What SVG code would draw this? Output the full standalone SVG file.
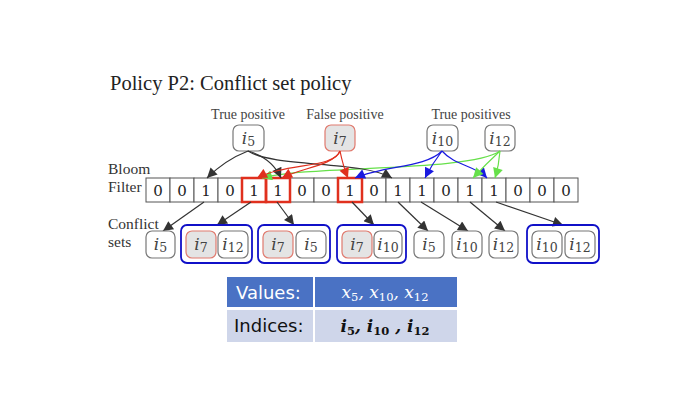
<svg xmlns="http://www.w3.org/2000/svg" width="695" height="407" viewBox="0 0 695 407">
<style>
.ser{font-family:"Liberation Serif","Times New Roman",serif;fill:#222}
.lbl{font-size:14px;fill:#444}
.side{font-size:15.5px;fill:#333}
.cell{fill:#fff;stroke:#555;stroke-width:1}
.dig{font-family:"DejaVu Serif",serif;font-size:15px;fill:#222;text-anchor:middle}
.red{fill:none;stroke:#e0301e;stroke-width:2.5}
.nd{fill:#fff;stroke:#777;stroke-width:1.2}
.fp{fill:#e4e4e4;stroke:#e07a6e;stroke-width:1.2}
.grp{fill:none;stroke:#1010c8;stroke-width:1.8}
.it{font-family:"DejaVu Serif",serif;font-size:17px;fill:#444;text-anchor:middle}
.it .i{font-style:italic}
.it .s{font-size:12.5px}
.e{fill:none;stroke-width:1.2}
.k{stroke:#333}
.r{stroke:#e0301e}
.b{stroke:#1a1ae0}
.g{stroke:#66e04a}
.hd{font-family:"DejaVu Sans","Liberation Sans",sans-serif;font-size:18px}
.mth{font-family:"DejaVu Serif",serif;font-style:italic;font-size:17px;text-anchor:middle}
.mth .s{font-style:normal;font-size:11.5px}
</style>
<defs>
<marker id="mk" viewBox="0 0 10 10" refX="10" refY="5" markerWidth="12" markerHeight="10" markerUnits="userSpaceOnUse" orient="auto"><path d="M0,0 L10,5 L0,10 z" fill="#333"/></marker>
<marker id="mr" viewBox="0 0 10 10" refX="10" refY="5" markerWidth="12" markerHeight="10" markerUnits="userSpaceOnUse" orient="auto"><path d="M0,0 L10,5 L0,10 z" fill="#e0301e"/></marker>
<marker id="mb" viewBox="0 0 10 10" refX="10" refY="5" markerWidth="12" markerHeight="10" markerUnits="userSpaceOnUse" orient="auto"><path d="M0,0 L10,5 L0,10 z" fill="#1a1ae0"/></marker>
<marker id="mg" viewBox="0 0 10 10" refX="10" refY="5" markerWidth="12" markerHeight="10" markerUnits="userSpaceOnUse" orient="auto"><path d="M0,0 L10,5 L0,10 z" fill="#66e04a"/></marker>
</defs>
<rect width="695" height="407" fill="#fff"/>
<text class="ser" x="110" y="90" font-size="20.5" fill="#111">Policy P2: Conflict set policy</text>
<text class="ser lbl" x="248" y="119" text-anchor="middle">True positive</text>
<text class="ser lbl" x="345" y="119" text-anchor="middle">False positive</text>
<text class="ser lbl" x="471" y="119" text-anchor="middle">True positives</text>
<text class="ser side" x="108" y="174">Bloom</text>
<text class="ser side" x="108" y="192">Filter</text>
<text class="ser side" x="108" y="229">Conflict</text>
<text class="ser side" x="108" y="247">sets</text>

<g id="bloom">
<rect class="cell" x="146" y="178" width="24" height="24"/><text class="dig" x="158" y="196">0</text>
<rect class="cell" x="170" y="178" width="24" height="24"/><text class="dig" x="182" y="196">0</text>
<rect class="cell" x="194" y="178" width="24" height="24"/><text class="dig" x="206" y="196">1</text>
<rect class="cell" x="218" y="178" width="24" height="24"/><text class="dig" x="230" y="196">0</text>
<rect class="cell" x="242" y="178" width="24" height="24"/><text class="dig" x="254" y="196">1</text>
<rect class="cell" x="266" y="178" width="24" height="24"/><text class="dig" x="278" y="196">1</text>
<rect class="cell" x="290" y="178" width="24" height="24"/><text class="dig" x="302" y="196">0</text>
<rect class="cell" x="314" y="178" width="24" height="24"/><text class="dig" x="326" y="196">0</text>
<rect class="cell" x="338" y="178" width="24" height="24"/><text class="dig" x="350" y="196">1</text>
<rect class="cell" x="362" y="178" width="24" height="24"/><text class="dig" x="374" y="196">0</text>
<rect class="cell" x="386" y="178" width="24" height="24"/><text class="dig" x="398" y="196">1</text>
<rect class="cell" x="410" y="178" width="24" height="24"/><text class="dig" x="422" y="196">1</text>
<rect class="cell" x="434" y="178" width="24" height="24"/><text class="dig" x="446" y="196">0</text>
<rect class="cell" x="458" y="178" width="24" height="24"/><text class="dig" x="470" y="196">1</text>
<rect class="cell" x="482" y="178" width="24" height="24"/><text class="dig" x="494" y="196">1</text>
<rect class="cell" x="506" y="178" width="24" height="24"/><text class="dig" x="518" y="196">0</text>
<rect class="cell" x="530" y="178" width="24" height="24"/><text class="dig" x="542" y="196">0</text>
<rect class="cell" x="554" y="178" width="24" height="24"/><text class="dig" x="566" y="196">0</text>
<rect class="red" x="242" y="178" width="24" height="24"/>
<rect class="red" x="266" y="178" width="24" height="24"/>
<rect class="red" x="338" y="178" width="24" height="24"/>
</g>

<g id="top-i5"><rect class="nd" x="233" y="125" width="31" height="26" rx="6"/><text class="it" x="248.5" y="144"><tspan class="i">i</tspan><tspan class="s" dy="2">5</tspan></text></g>
<g id="top-i7"><rect class="fp" x="325" y="125" width="30" height="26" rx="6"/><text class="it" x="340" y="144"><tspan class="i">i</tspan><tspan class="s" dy="2">7</tspan></text></g>
<g id="top-i10"><rect class="nd" x="427" y="125" width="31" height="26" rx="6"/><text class="it" x="442.5" y="144"><tspan class="i">i</tspan><tspan class="s" dy="2">10</tspan></text></g>
<g id="top-i12"><rect class="nd" x="485" y="125" width="30" height="26" rx="6"/><text class="it" x="500" y="144"><tspan class="i">i</tspan><tspan class="s" dy="2">12</tspan></text></g>

<g id="connectors">
<path class="e g" d="M500,151 C470,172 310,165 262,178" marker-end="url(#mg)"/>
<path class="e k" d="M248,151 Q225,160 207,178" marker-end="url(#mk)"/>
<path class="e k" d="M248,151 Q272,158 281,178" marker-end="url(#mk)"/>
<path class="e k" d="M248,151 C275,168 360,160 392,178" marker-end="url(#mk)"/>
<path class="e r" d="M340,151 C335,168 285,163 257,178" marker-end="url(#mr)"/>
<path class="e r" d="M340,151 C333,166 300,168 282,178" marker-end="url(#mr)"/>
<path class="e r" d="M340,151 Q343,166 348,178" marker-end="url(#mr)"/>
<path class="e b" d="M442,151 C425,168 385,165 355,178" marker-end="url(#mb)"/>
<path class="e b" d="M442,151 Q432,164 425,178" marker-end="url(#mb)"/>
<path class="e b" d="M442,151 C455,166 475,165 487,178" marker-end="url(#mb)"/>
<path class="e g" d="M500,151 Q486,164 473,178" marker-end="url(#mg)"/>
<path class="e g" d="M500,151 Q499,165 495,178" marker-end="url(#mg)"/>

<path class="e k" d="M204,202 L163,231" marker-end="url(#mk)"/>
<path class="e k" d="M251,202 L217,225" marker-end="url(#mk)"/>
<path class="e k" d="M277,202 L294,225" marker-end="url(#mk)"/>
<path class="e k" d="M352,202 L374,225" marker-end="url(#mk)"/>
<path class="e k" d="M398,202 L428,231" marker-end="url(#mk)"/>
<path class="e k" d="M421,202 L468,231" marker-end="url(#mk)"/>
<path class="e k" d="M470,202 L505,231" marker-end="url(#mk)"/>
<path class="e k" d="M496,202 L563,225" marker-end="url(#mk)"/>
</g>

<g id="cs-i5a"><rect class="nd" x="146" y="231" width="29" height="27" rx="6"/><text class="it" x="160.5" y="250"><tspan class="i">i</tspan><tspan class="s" dy="2">5</tspan></text></g>
<g id="cs-g1">
<rect class="grp" x="181" y="225" width="71" height="38" rx="6"/>
<rect class="fp" x="186" y="231" width="30" height="27" rx="6"/><text class="it" x="201" y="250"><tspan class="i">i</tspan><tspan class="s" dy="2">7</tspan></text>
<rect class="nd" x="218" y="231" width="30" height="27" rx="6"/><text class="it" x="233" y="250"><tspan class="i">i</tspan><tspan class="s" dy="2">12</tspan></text>
</g>
<g id="cs-g2">
<rect class="grp" x="258" y="225" width="72" height="38" rx="6"/>
<rect class="fp" x="263" y="231" width="30" height="27" rx="6"/><text class="it" x="278" y="250"><tspan class="i">i</tspan><tspan class="s" dy="2">7</tspan></text>
<rect class="nd" x="296" y="231" width="30" height="27" rx="6"/><text class="it" x="311" y="250"><tspan class="i">i</tspan><tspan class="s" dy="2">5</tspan></text>
</g>
<g id="cs-g3">
<rect class="grp" x="337" y="225" width="69" height="38" rx="6"/>
<rect class="fp" x="342" y="231" width="30" height="27" rx="6"/><text class="it" x="357" y="250"><tspan class="i">i</tspan><tspan class="s" dy="2">7</tspan></text>
<rect class="nd" x="374" y="231" width="28" height="27" rx="6"/><text class="it" x="388" y="250"><tspan class="i">i</tspan><tspan class="s" dy="2">10</tspan></text>
</g>
<g id="cs-i5b"><rect class="nd" x="414" y="231" width="30" height="27" rx="6"/><text class="it" x="429" y="250"><tspan class="i">i</tspan><tspan class="s" dy="2">5</tspan></text></g>
<g id="cs-i10"><rect class="nd" x="452" y="231" width="30" height="27" rx="6"/><text class="it" x="467" y="250"><tspan class="i">i</tspan><tspan class="s" dy="2">10</tspan></text></g>
<g id="cs-i12"><rect class="nd" x="489" y="231" width="29" height="27" rx="6"/><text class="it" x="503.5" y="250"><tspan class="i">i</tspan><tspan class="s" dy="2">12</tspan></text></g>
<g id="cs-g4">
<rect class="grp" x="527" y="225" width="72" height="38" rx="6"/>
<rect class="nd" x="532" y="231" width="30" height="27" rx="6"/><text class="it" x="547" y="250"><tspan class="i">i</tspan><tspan class="s" dy="2">10</tspan></text>
<rect class="nd" x="565" y="231" width="30" height="27" rx="6"/><text class="it" x="580" y="250"><tspan class="i">i</tspan><tspan class="s" dy="2">12</tspan></text>
</g>

<g id="table">
<rect x="227" y="277" width="86" height="30" fill="#4a72c4"/>
<rect x="315" y="277" width="142" height="30" fill="#4a72c4"/>
<rect x="227" y="310" width="86" height="32" fill="#cfd6ea"/>
<rect x="315" y="310" width="142" height="32" fill="#cfd6ea"/>
<text class="hd" x="236" y="299" fill="#fff">Values:</text>
<text class="hd" x="234" y="332" fill="#111">Indices:</text>
<text class="mth" x="385" y="298" fill="#fff">x<tspan class="s" dy="3">5</tspan><tspan dy="-3">, x</tspan><tspan class="s" dy="3">10</tspan><tspan dy="-3">, x</tspan><tspan class="s" dy="3">12</tspan></text>
<text class="mth" x="385" y="332" fill="#111" font-weight="bold">i<tspan class="s" dy="3">5</tspan><tspan dy="-3">, i</tspan><tspan class="s" dy="3">10</tspan><tspan dy="-3"> , i</tspan><tspan class="s" dy="3">12</tspan></text>
</g>
</svg>
